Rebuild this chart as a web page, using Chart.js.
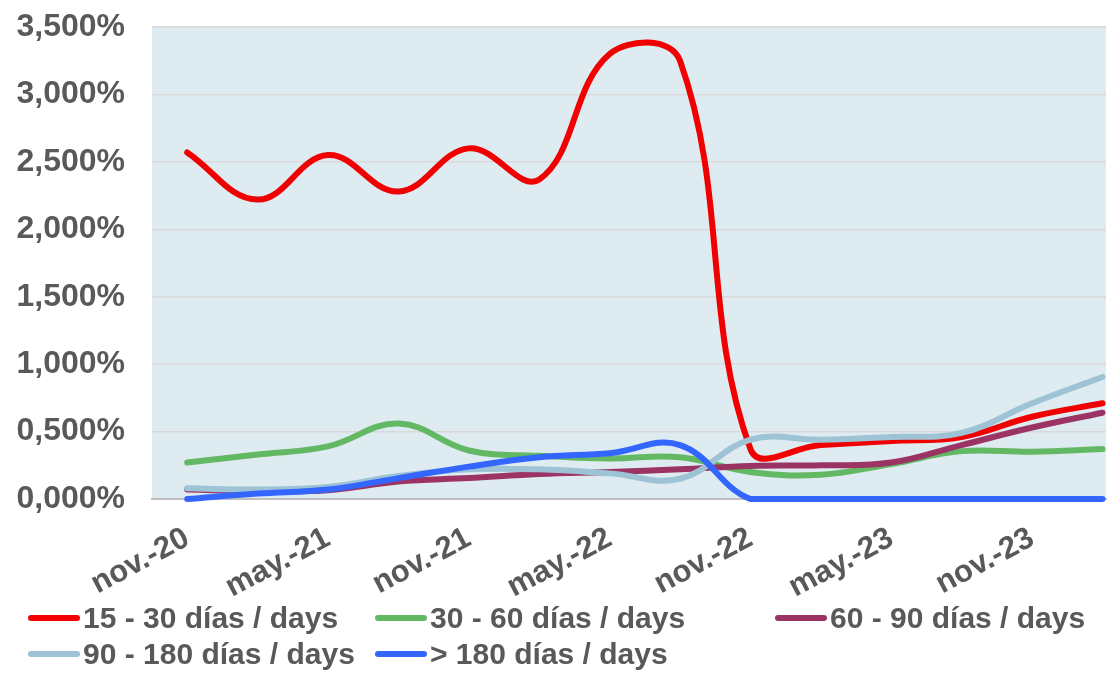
<!DOCTYPE html>
<html>
<head>
<meta charset="utf-8">
<script src="https://cdn.jsdelivr.net/npm/chart.js@4.4.0/dist/chart.umd.min.js"></script>
<style>
  html, body { margin: 0; padding: 0; background: #fff; overflow: hidden; }
  #wrap { position: relative; width: 1108px; height: 675px; }
  #chart { position: absolute; left: 0; top: 0; }
  #legend {
    position: absolute; left: 28px; top: 600px;
    display: grid; grid-template-columns: 347px 400px auto;
    font: bold 30px "Liberation Sans", Arial, sans-serif; color: #595959;
  }
  .item { display: flex; align-items: center; height: 36px; white-space: nowrap; }
  .item i { display: inline-block; width: 52px; height: 6px; border-radius: 3px; margin-right: 3px; }
</style>
</head>
<body>
<div id="wrap">
  <canvas id="chart" width="1108" height="675"></canvas>
  <div id="legend"></div>
</div>
<script>
// quarterly points, nov-20 .. feb-24
const months = ["nov.-20", "feb.-21", "may.-21", "ago.-21", "nov.-21", "feb.-22", "may.-22",
  "ago.-22", "nov.-22", "feb.-23", "may.-23", "ago.-23", "nov.-23", "feb.-24"];
const tickIdx = [0, 2, 4, 6, 8, 10, 12];

const d15_30 = [2.57, 2.22, 2.55, 2.28, 2.60, 2.37, 3.30, 3.25, 0.37, 0.40, 0.43, 0.46, 0.61, 0.71];
const d30_60 = [0.27, 0.33, 0.39, 0.56, 0.36, 0.32, 0.30, 0.31, 0.20, 0.18, 0.26, 0.355, 0.35, 0.37];
const d60_90 = [0.07, 0.06, 0.065, 0.13, 0.155, 0.185, 0.20, 0.22, 0.245, 0.25, 0.27, 0.40, 0.53, 0.64];
const d90_180 = [0.08, 0.07, 0.09, 0.17, 0.22, 0.22, 0.19, 0.15, 0.44, 0.44, 0.46, 0.49, 0.71, 0.905];
const d180 = [0.00, 0.04, 0.07, 0.155, 0.24, 0.31, 0.34, 0.40, 0.00, 0.00, 0.00, 0.00, 0.00, 0.00];

const seriesNames = ["15 - 30 días / days", "30 - 60 días / days", "60 - 90 días / days",
  "90 - 180 días / days", "> 180 días / days"];
const seriesColors = ["#F00000", "#63B963", "#9B3465", "#9DC3D5", "#3366FF"];
const seriesValues = [d15_30, d30_60, d60_90, d90_180, d180];

const yTicks = [0, 0.5, 1, 1.5, 2, 2.5, 3, 3.5];

const textColor = "#595959";
const font = (size) => ({ family: '"Liberation Sans", Arial, sans-serif', size, weight: "bold" });

const plotBg = {
  id: "plotBg",
  beforeDraw(chart) {
    const { ctx, chartArea: a } = chart;
    ctx.save();
    ctx.fillStyle = "#DEEBF1";
    ctx.fillRect(a.left, a.top, a.right - a.left, a.bottom - a.top);
    ctx.restore();
  },
};

const datasets = seriesValues.map((vals, i) => ({
  label: seriesNames[i],
  data: vals.map((v, k) => ({ x: k, y: v })),
  borderColor: seriesColors[i],
  backgroundColor: seriesColors[i],
  order: seriesValues.length - i,
  clip: false,
}));

new Chart(document.getElementById("chart"), {
  type: "line",
  data: { datasets },
  plugins: [plotBg],
  options: {
    responsive: false,
    animation: false,
    layout: { padding: { top: 27, right: 2, left: 0, bottom: 0 } },
    elements: {
      point: { radius: 0 },
      line: { borderWidth: 6, tension: 0.4, borderCapStyle: "round", borderJoinStyle: "round" },
    },
    plugins: { legend: { display: false }, tooltip: { enabled: false } },
    scales: {
      x: {
        type: "linear",
        min: -0.5,
        max: 13.05,
        afterBuildTicks: (s) => { s.ticks = tickIdx.map((v) => ({ value: v })); },
        afterFit: (s) => { s.height = 176; s.paddingLeft = 0; s.paddingRight = 0; },
        grid: { display: false },
        border: { color: "#BFBFBF", width: 2 },
        ticks: {
          autoSkip: false,
          minRotation: 28,
          maxRotation: 28,
          padding: 13,
          color: textColor,
          font: font(31),
          callback: (v) => months[v],
        },
      },
      y: {
        min: 0,
        max: 3.5,
        afterBuildTicks: (s) => { s.ticks = yTicks.map((v) => ({ value: v })); },
        afterFit: (s) => { s.width = 152; s.paddingTop = 0; s.paddingBottom = 0; },
        grid: { color: "#D9D9D9", lineWidth: 1.5, drawTicks: false },
        border: { display: false },
        ticks: {
          padding: 27,
          color: textColor,
          font: font(32),
          callback: (v) => v.toFixed(3).replace(".", ",") + "%",
        },
      },
    },
  },
});

const legend = document.getElementById("legend");
seriesNames.forEach((name, i) => {
  const item = document.createElement("div");
  item.className = "item";
  item.innerHTML = `<i style="background:${seriesColors[i]}"></i><span>${name}</span>`;
  legend.appendChild(item);
});
</script>
</body>
</html>
